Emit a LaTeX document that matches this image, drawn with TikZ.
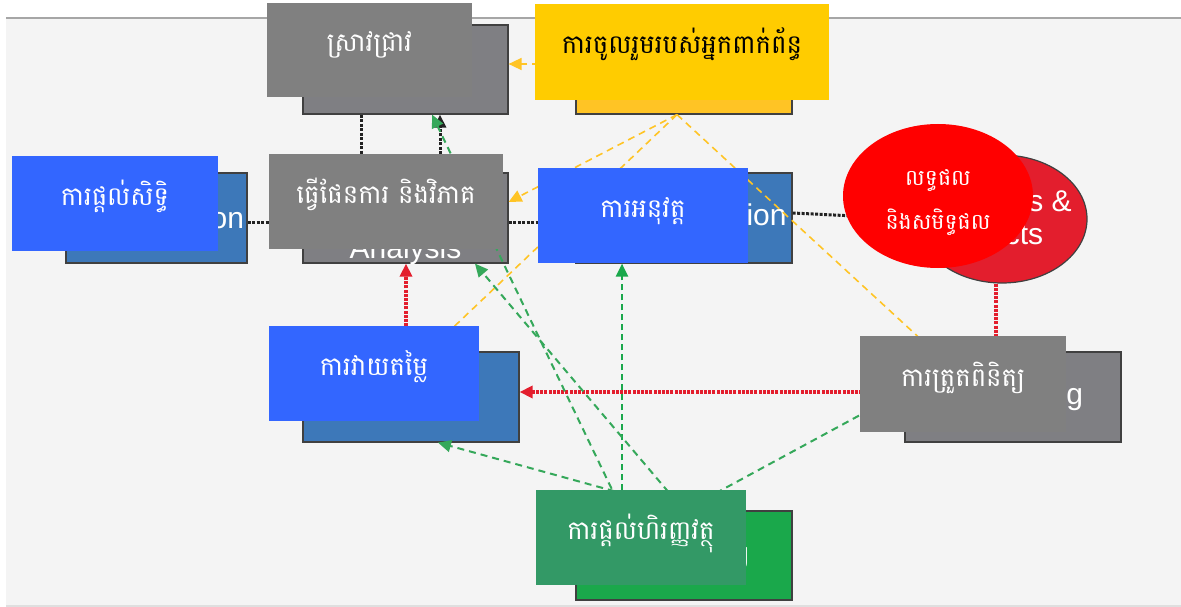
\documentclass[tikz,border=0pt]{standalone}
\usepackage{fontspec}
\setmainfont{Liberation Sans}
\newfontfamily\km[Script=Khmer]{Battambang}
\usetikzlibrary{arrows.meta,shapes.geometric}
\definecolor{cPanel}{HTML}{F4F4F4}
\definecolor{cGreyB}{HTML}{7F7F83}
\definecolor{cGreyF}{HTML}{808080}
\definecolor{cBlueB}{HTML}{3D78B9}
\definecolor{cBlueF}{HTML}{3366FF}
\definecolor{cYelB}{HTML}{FFC425}
\definecolor{cYelF}{HTML}{FFCC00}
\definecolor{cRedB}{HTML}{E31E2D}
\definecolor{cRedF}{HTML}{FF0000}
\definecolor{cGrnB}{HTML}{1AA84B}
\definecolor{cGrnF}{HTML}{339966}
\definecolor{cLine}{HTML}{222222}
\definecolor{cYelL}{HTML}{FFC425}
\definecolor{cGrnL}{HTML}{35A85A}
\tikzset{
  backbox/.style={rectangle, draw=black!75, line width=1.2pt, inner sep=0pt, text=white,
    font=\fontsize{30}{34}\selectfont},
  backell/.style={ellipse, draw=black!75, line width=1.2pt, inner sep=0pt, text=white,
    font=\fontsize{30}{33}\selectfont},
  frontbox/.style={rectangle, inner sep=0pt, text=white, text height=16pt, text depth=12pt,
    font=\km\fontsize{26}{30}\selectfont},
  blackdot/.style={draw=cLine, line width=3pt, dash pattern=on 3pt off 1.5pt},
  reddot/.style={draw=cRedB, line width=3.8pt, dash pattern=on 3pt off 1.2pt},
  ydash/.style={draw=cYelL, line width=1.6pt, dash pattern=on 7pt off 5pt},
  gdash/.style={draw=cGrnL, line width=2pt, dash pattern=on 7pt off 5pt},
  gdashdark/.style={draw=cGrnB, line width=2.2pt, dash pattern=on 6pt off 4pt},
  tipk/.style={-{Triangle[length=13pt,width=12pt]}},
}
\begin{document}
\begin{tikzpicture}[x=1pt,y=-1pt]
\useasboundingbox (0,0) rectangle (1181,607);
\fill[white] (0,0) rectangle (1181,607);
\fill[cPanel] (6,19) rectangle (1181,605);
\draw[gray!70, line width=2pt] (6,18) -- (1181,18);
\draw[gray!25, line width=1.5pt] (6,606) -- (1181,606);

% back boxes
\node[backbox, fill=cGreyB, minimum width=205pt, minimum height=89pt] (rB) at (405.5,69.5) {};
\node[backbox, fill=cYelB, minimum width=216pt, minimum height=89pt] (sB) at (684,69.5) {};
\node[backbox, fill=cBlueB, minimum width=181pt, minimum height=90pt] (aB) at (156.5,218) {Authorization};
\node[backbox, fill=cGreyB, minimum width=205pt, minimum height=90pt] (pB) at (405.5,218) {};
\node[anchor=south, inner sep=0pt, align=center, text=white, font=\fontsize{30}{34}\selectfont] (pBt) at (405.5,265) {Planning \&\\Analysis};
\node[backbox, fill=cBlueB, minimum width=216pt, minimum height=90pt] (iB) at (684,218) {Implementation};
\node[backell, fill=cRedB, minimum width=170pt, minimum height=128pt] (oB) at (1002,219) {};
\node[anchor=south west, inner sep=0pt, align=left, text=white, font=\fontsize{30}{33}\selectfont] (oBt) at (938,251) {Outputs \&\\Impacts};
\node[backbox, fill=cBlueB, minimum width=216pt, minimum height=90pt] (eB) at (411,397) {Evaluation};
\node[backbox, fill=cGreyB, minimum width=216pt, minimum height=90pt] (mB) at (1013,397) {Monitoring};
\node[backbox, fill=cGrnB, minimum width=216pt, minimum height=89pt] (fB) at (684,555.5) {Financing};

% connectors
\draw[blackdot] ([xshift=-44.5pt]rB.south) -- ([xshift=-44.5pt]pB.north);
\draw[blackdot, tipk] ([xshift=34.5pt]pB.north) -- ([xshift=34.5pt]rB.south);
\draw[blackdot] ([yshift=-4pt]aB.east) -- ([yshift=-4pt]pB.west);
\draw[blackdot] ([yshift=-4pt]pB.east) -- ([yshift=-4pt]iB.west);
\draw[blackdot] ([yshift=5pt]iB.east) -- (oB.west);
\draw[reddot, tipk] ([xshift=-5pt]eB.north) -- ([xshift=0.5pt]pB.south);
\draw[reddot, tipk] ([xshift=-6pt]oB.south) -- ([xshift=-17pt]mB.north);
\draw[reddot, tipk] ([yshift=5pt]mB.west) -- ([yshift=5pt]eB.east);
\draw[ydash, tipk] ([yshift=5.5pt]sB.west) -- ([yshift=5.5pt]rB.east);
\draw[ydash, tipk] ([xshift=-7pt]sB.south) -- ([yshift=16pt]pB.east);
\draw[ydash, tipk] ([xshift=-7pt]sB.south) -- ([xshift=17pt]eB.north);
\draw[ydash, tipk] ([xshift=-7pt]sB.south) -- ([xshift=-79pt]mB.north);
\draw[gdashdark, tipk] ([xshift=-62pt]fB.north) -- ([xshift=-62pt]iB.south);
\draw[gdash, tipk] (fB.north) -- ([xshift=27pt]eB.south);
\draw[gdash, tipk] ([xshift=-62pt]fB.north) -- ([xshift=26.5pt]rB.south);
\draw[gdash, tipk] (fB.north) -- ([xshift=69.5pt]pB.south);
\draw[gdash, tipk] (fB.north) -- ([yshift=6pt]mB.west);

% front boxes
\node[frontbox, fill=cGreyF, minimum width=205pt, minimum height=94pt] (rF) at (369.5,50) {ស្រាវជ្រាវ};
\node[frontbox, fill=cYelF, text=black, minimum width=294pt, minimum height=96pt] (sF) at (682,52) {ការចូលរួមរបស់អ្នកពាក់ព័ន្ធ};
\node[frontbox, fill=cBlueF, minimum width=206pt, minimum height=95pt] (aF) at (115,203.5) {ការផ្តល់សិទ្ធិ};
\node[frontbox, fill=cGreyF, minimum width=234pt, minimum height=95pt] (pF) at (386,201.5) {ធ្វើផែនការ និងវិភាគ};
\node[frontbox, fill=cBlueF, minimum width=210pt, minimum height=95pt] (iF) at (643,215.5) {ការអនុវត្ត};
\node[ellipse, fill=cRedF, inner sep=0pt, minimum width=190pt, minimum height=144pt] (oF) at (938,196) {};
\node[text=white, align=center, inner sep=0pt, font=\km\fontsize{22}{44}\selectfont] (oFt) at (938,203) {លទ្ធផល\\និងសមិទ្ធផល};
\node[frontbox, fill=cBlueF, minimum width=210pt, minimum height=95pt] (eF) at (374,373.5) {ការវាយតម្លៃ};
\node[frontbox, fill=cGreyF, minimum width=206pt, minimum height=96pt] (mF) at (963,384) {ការត្រួតពិនិត្យ};
\node[frontbox, fill=cGrnF, minimum width=210pt, minimum height=95pt] (fF) at (641,537.5) {ការផ្តល់ហិរញ្ញវត្ថុ};
\end{tikzpicture}
\end{document}
